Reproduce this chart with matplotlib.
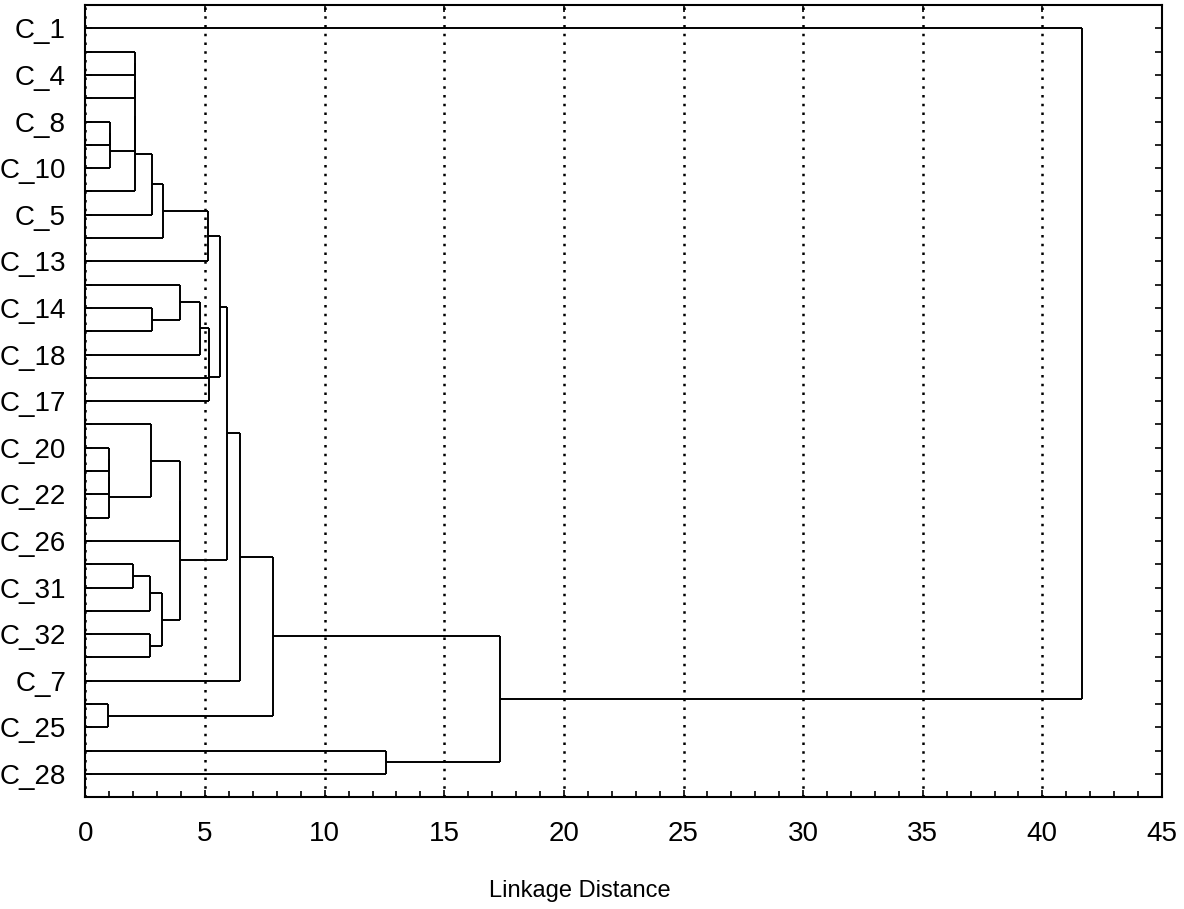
import matplotlib
matplotlib.use("Agg")
import matplotlib.pyplot as plt
from matplotlib.ticker import MultipleLocator

# leaf labels, top to bottom (only every second one is printed in the original)
leaf_labels = ["C_1", "", "C_4", "", "C_8", "", "C_10", "", "C_5", "", "C_13", "",
               "C_14", "", "C_18", "", "C_17", "", "C_20", "", "C_22", "", "C_26", "",
               "C_31", "", "C_32", "", "C_7", "", "C_25", "", "C_28"]

# merges: (left node, right node, linkage distance); nodes >= 33 are earlier merges
merge_left = [4, 33, 1, 35, 36, 37, 38, 39, 40, 12, 11, 43, 44, 45, 41, 18, 48, 49,
              17, 51, 23, 53, 26, 54, 52, 47, 58, 29, 59, 31, 61, 0]
merge_right = [5, 6, 2, 3, 34, 7, 8, 9, 10, 13, 42, 14, 15, 16, 46, 19, 20, 21,
               50, 22, 24, 25, 27, 55, 56, 57, 28, 30, 60, 32, 62, 63]
merge_dist = [1.02, 1.02, 2.05, 2.05, 2.05, 2.05, 2.77, 3.25, 5.13, 2.77, 3.95, 4.79,
              5.18, 5.18, 5.62, 0.98, 0.98, 0.98, 2.73, 3.95, 2.00, 2.70, 2.70, 3.21,
              3.95, 5.90, 6.44, 0.95, 7.85, 12.55, 17.33, 41.66]

plt.rcParams["font.family"] = ["Liberation Sans", "DejaVu Sans"]

fig = plt.figure(figsize=(11.84, 9.09), dpi=100)
ax = fig.add_axes([0.0722, 0.1229, 0.9092, 0.8716])

n = len(leaf_labels)
ypos = [i + 1 for i in range(n)]
height = [0.0] * n

for a, b, d in zip(merge_left, merge_right, merge_dist):
    ya, yb = ypos[a], ypos[b]
    ax.plot([height[a], d], [ya, ya], color="black", lw=1.4, solid_capstyle="butt")
    ax.plot([height[b], d], [yb, yb], color="black", lw=1.4, solid_capstyle="butt")
    ax.plot([d, d], [ya, yb], color="black", lw=1.4, solid_capstyle="butt")
    ypos.append((ya + yb) / 2)
    height.append(d)

ax.set_xlim(0, 45)
ax.set_ylim(n + 1, 0)

ax.xaxis.set_major_locator(MultipleLocator(5))
ax.xaxis.set_minor_locator(MultipleLocator(1))
ax.set_yticks(range(1, n + 1))
ax.set_yticklabels(leaf_labels)

ax.grid(axis="x", which="major", color="black", lw=1.8, linestyle=(0, (1, 2.5)))
ax.set_axisbelow(True)

ax.tick_params(axis="x", which="both", direction="in", top=True, labelsize=20, pad=17)
ax.tick_params(axis="x", which="major", length=5, width=1.2)
ax.tick_params(axis="x", which="minor", length=4, width=1.2, top=False)
ax.tick_params(axis="y", direction="in", right=True, length=5, width=1.2,
               labelsize=20, pad=14)

for s in ax.spines.values():
    s.set_linewidth(1.5)

ax.set_xlabel("Linkage Distance", fontsize=17)
ax.xaxis.set_label_coords(0.459, -0.104)

fig.savefig("out.png", dpi=100)
